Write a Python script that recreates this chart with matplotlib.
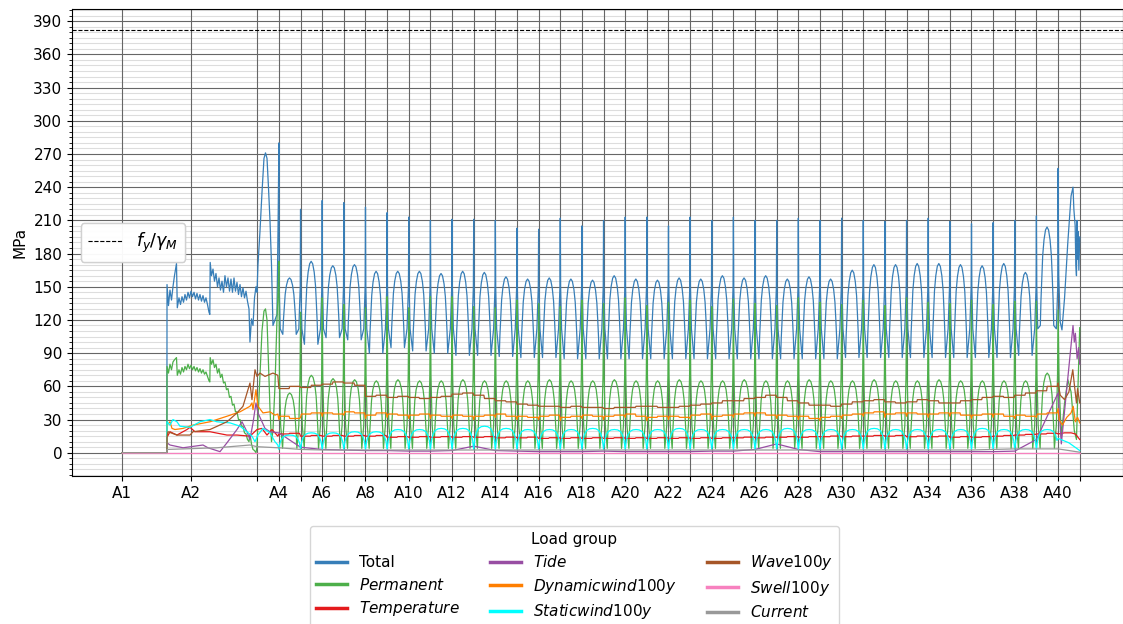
import matplotlib
matplotlib.use('Agg')
import matplotlib.pyplot as plt
from matplotlib.ticker import MultipleLocator

# supports along the bridge [m]
supports = ['A%d' % i for i in range(1, 42)]
support_x = [0.0, 127.5, 250.0] + [250.0 + 40.0 * i for i in range(1, 39)]
shown = ['A1', 'A2'] + ['A%d' % i for i in range(4, 41, 2)]

fy, gamma_M = 420.0, 1.1

# ---- lead-in A1 -> A4 (x [m], MPa) ----
total_lead_x = [0, 83.0, 83.2, 85.9, 88.7, 91.5, 94.2, 97.0, 100.7, 102.2, 105.3, 108.1, 110.9, 113.7,
                116.4, 119.2, 122.0, 124.7, 127.5, 130.3, 133.1, 135.8, 138.6, 141.4, 144.1, 146.9,
                149.7, 152.5, 155.2, 158.0, 160.8, 162.3, 163.0, 165.4, 168.2, 170.9, 173.7, 176.5,
                179.3, 182.0, 184.8, 187.6, 190.3, 193.1, 195.9, 198.7, 201.4, 204.2, 207.0, 209.7,
                212.5, 215.3, 218.1, 220.8, 223.6, 226.4, 229.2, 231.9, 234.7, 236.5, 239.3, 242.1,
                244.9, 247.6, 249.5, 251.3, 255.0, 258.7, 262.4, 265.2, 268.0, 270.7, 273.5, 276.3,
                279.0, 282.7, 286.4, 288.8]
total_lead_y = [0, 0, 152, 133, 147, 138, 150, 160, 171, 131, 140, 134, 141, 136,
                143, 138, 145, 140, 146, 141, 145, 139, 144, 138, 143, 137,
                142, 136, 140, 134, 127, 125, 172, 160, 166, 155, 162, 150,
                158, 147, 155, 145, 160, 150, 158, 146, 157, 145, 158, 146,
                154, 143, 152, 141, 149, 140, 146, 137, 130, 100, 121, 115,
                140, 150, 145, 170, 200, 235, 266, 271, 266, 240, 210, 170,
                115, 120, 125, 220]

perm_lead_x = total_lead_x
perm_lead_y = [0, 0, 78, 72, 80, 75, 82, 84, 86, 70, 75, 71, 77, 73,
               78, 75, 80, 76, 79, 75, 78, 74, 77, 73, 76, 72,
               75, 71, 73, 69, 65, 64, 86, 80, 84, 77, 80, 72,
               76, 68, 71, 63, 64, 57, 58, 50, 51, 43, 44, 37,
               37, 30, 30, 24, 24, 18, 17, 12, 10, 17, 8, 3,
               2, 0, 5, 30, 70, 110, 128, 130, 120, 80, 40, 10,
               20, 60, 120, 150]

temp_lead_x = [0, 83.0, 83.2, 88.7, 101.6, 120.1, 125.7, 134.9, 162.6, 194.0, 212.5, 236.5, 249.5, 258.7, 268.0, 277.2, 288.0]
temp_lead_y = [0, 0, 14, 19, 16, 21, 23, 19, 19, 16, 16, 15, 21, 22, 16, 21, 15]

tide_lead_x = [0, 83.0, 83.2, 88.7, 112.8, 149.7, 158.9, 181.1, 194.0, 212.5, 221.8, 231.0, 236.5, 242.1, 247.6, 251.3, 264.3, 273.5, 288.0]
tide_lead_y = [0, 0, 9, 7, 4.5, 7, 4.5, 1, 9, 21, 28, 19, 12, 27, 45, 36, 22, 19, 18]

dyn_lead_x = [0, 83.0, 83.2, 88.7, 92.4, 97.9, 112.8, 131.2, 162.6, 194.0, 218.1, 236.5, 240.2, 242.1, 247.6, 251.3, 260.6, 273.5, 282.7, 288.0]
dyn_lead_y = [0, 0, 25, 28, 22, 21, 22, 25, 28, 33, 37, 42, 45, 39, 57, 42, 36, 37, 34, 35]

static_lead_x = [0, 83.0, 83.2, 88.7, 94.2, 101.6, 107.2, 125.7, 144.1, 162.6, 175.5, 199.6, 218.1, 231.0, 240.2, 245.8, 251.3, 260.6, 273.5, 282.7, 288.0]
static_lead_y = [0, 0, 28, 25, 30, 28, 24, 23, 28, 30, 28, 27, 24, 19, 15, 10, 16, 22, 18, 10, 7]

wave_lead_x = [0, 83.0, 83.2, 85.0, 101.6, 125.7, 131.2, 162.6, 194.0, 212.5, 223.6, 231.0, 236.5, 240.2, 245.8, 249.5, 255.0, 264.3, 279.0, 288.0]
wave_lead_y = [0, 0, 13.5, 19, 16, 16, 19, 21, 28, 36, 42, 54, 63, 48, 75, 69, 72, 69, 72, 70]

current_lead_x = [0, 83.0, 83.2, 175.5, 236.5, 249.5, 288.0]
current_lead_y = [0, 0, 3, 4.5, 7, 5.5, 4.5]

# ---- regular spans A4-A5 ... A39-A40 (one value per span) ----
total_spike = [280, 220, 228, 226, 222, 217, 213, 210, 211, 211, 210, 203, 202, 212, 205, 210, 213, 213,
               205, 213, 210, 213, 210, 210, 212, 210, 212, 210, 209, 210, 212, 209, 207, 208, 210, 214]
total_hump = [158, 173, 169, 170, 164, 164, 164, 162, 164, 163, 159, 157, 158, 157, 156, 160, 157, 156,
              158, 157, 160, 158, 160, 157, 159, 157, 165, 170, 170, 171, 171, 170, 169, 171, 163, 204]
total_min = [107, 98, 104, 102, 90, 95, 92, 90, 88, 88, 87, 86, 86, 85, 85, 85, 85, 85,
             85, 85, 85, 85, 85, 85, 85, 85, 86, 86, 86, 86, 86, 86, 86, 86, 88, 115]
perm_spike = [173, 127, 140, 134, 131, 141, 131, 141, 141, 132, 131, 138, 135, 132, 138, 135, 140, 133,
              136, 138, 132, 139, 135, 133, 140, 136, 134, 138, 133, 140, 136, 135, 138, 134, 137, 137]
perm_hump = [54, 70, 67, 66, 65, 66, 65, 65, 66, 65, 65, 65, 66, 65, 65, 66, 65, 65,
             66, 65, 65, 66, 65, 65, 66, 65, 65, 66, 65, 65, 66, 65, 65, 65, 65, 72]
static_hump = [16, 18, 18, 19, 19, 21, 21, 22, 22, 24, 22, 21, 21, 21, 22, 21, 21, 21,
               22, 21, 21, 21, 21, 22, 21, 21, 21, 22, 21, 21, 21, 21, 22, 21, 21, 21]
temp_level = [17, 15, 15, 15, 15, 14, 14, 14, 14, 14, 13.5, 13.5, 13, 13, 13, 13, 13, 13,
              13, 13, 13, 13.5, 13.5, 14, 14, 14.5, 14.5, 15, 15, 14.5, 14.5, 14, 14, 15, 16, 17]
dyn_a = [33, 35, 36, 37, 34, 35, 34, 34, 34, 33, 35, 33, 33, 32, 34, 33, 35, 32,
         33, 34, 33, 35, 36, 34, 33, 32, 34, 36, 35, 36, 35, 36, 34, 35, 34, 35]
dyn_b = [31, 36, 35, 36, 36, 34, 35, 33, 33, 34, 33, 32, 34, 33, 33, 34, 33, 33,
         32, 35, 34, 36, 34, 33, 31, 33, 35, 37, 36, 35, 36, 34, 35, 33, 33, 36]
wave_a = [58, 59, 62, 63, 51, 50, 50, 50, 53, 52, 47, 44, 42, 41, 41, 40, 41, 42,
          41, 43, 45, 47, 50, 50, 45, 43, 44, 47, 46, 46, 47, 45, 48, 51, 52, 56]
wave_b = [60, 61, 64, 61, 52, 51, 49, 51, 54, 49, 46, 43, 42, 42, 41, 41, 42, 41,
          42, 44, 47, 49, 52, 47, 43, 42, 46, 48, 45, 48, 45, 47, 50, 50, 54, 60]
# values at supports A4 ... A40
tide_sup = [18, 5, 3, 2.5, 2, 2, 1.5, 1.5, 2, 6, 2, 1.5, 1, 1, 1, 1.5, 1, 1, 1,
            1, 1.5, 1.5, 3, 8, 3, 1, 1, 1, 1, 1, 1, 1, 1, 1, 1.5, 12, 54]
current_sup = [4.5, 3, 2.5, 2.5, 2.5, 2.5, 2.5, 2.5, 2.5, 2.5, 2.5, 2.5, 2.5, 2.5, 2.5, 2.5, 2.5, 2.5, 2.5,
               2.5, 2.5, 2.5, 2.5, 2.5, 2.5, 2.5, 2.5, 2.5, 2.5, 2.5, 2.5, 2.5, 2.5, 3, 3.5, 3.5, 3.5]

# shape of one span (fraction of span, weight), read off a typical span
arch_w = [0, 0.26, 0.5, 0.71, 0.87, 0.97, 1, 0.97, 0.87, 0.71, 0.5, 0.26, 0]
total_arch_f = [0.18, 0.21, 0.25, 0.29, 0.35, 0.42, 0.49, 0.56, 0.63, 0.69, 0.73, 0.77, 0.8]
perm_arch_f = [0.17, 0.2, 0.24, 0.28, 0.34, 0.42, 0.5, 0.58, 0.66, 0.72, 0.76, 0.8, 0.83]
static_f = [0, 0.05, 0.12, 0.22, 0.35, 0.5, 0.65, 0.78, 0.88, 0.95]
static_w = [0, 0.45, 0.72, 0.9, 0.98, 1, 0.98, 0.9, 0.72, 0.45]

# ---- last span A40 - A41 ----
end_f = {
    'total': [0, 0.03, 0.1, 0.18, 0.3, 0.45, 0.6, 0.69, 0.73, 0.76, 0.79, 0.82, 0.85, 0.88, 0.9, 0.93, 0.96, 1.0],
    'perm': [0, 0.05, 0.15, 0.3, 0.45, 0.6, 0.75, 0.85, 0.95, 1.0],
    'temp': [0, 0.3, 0.6, 0.8, 1.0],
    'tide': [0.15, 0.69, 0.75, 0.8, 0.88, 0.95, 1.0],
    'dyn': [0, 0.05, 0.2, 0.4, 0.6, 0.7, 0.8, 0.9, 1.0],
    'static': [0, 0.5, 1.0],
    'wave': [0, 0.1, 0.3, 0.5, 0.68, 0.75, 0.85, 0.9, 1.0],
    'current': [1.0],
}
end_y = {
    'total': [257, 160, 118, 111, 140, 190, 232, 240, 220, 213, 205, 170, 160, 210, 175, 200, 165, 195],
    'perm': [129, 60, 15, 45, 66, 55, 20, 12, 80, 113],
    'temp': [17, 18, 18, 17, 12],
    'tide': [8, 115, 100, 108, 85, 95, 80],
    'dyn': [40, 30, 25, 32, 36, 42, 28, 32, 27],
    'static': [13, 9, 2],
    'wave': [63, 52, 48, 55, 75, 62, 45, 58, 45],
    'current': [0.5],
}

span0 = support_x[3:39]
L = 40.0
x_end0 = support_x[39]


def join(lead_x, lead_y, xs, ys, key):
    x = list(lead_x) + xs + [x_end0 + f * L for f in end_f[key]]
    y = list(lead_y) + ys + end_y[key]
    return x, y


series = {}

xs, ys = [], []
for x0, s, p, m in zip(span0, total_spike, total_hump, total_min):
    f = [0, 0.015, 0.06] + total_arch_f + [0.92, 0.985]
    v = [s, 150, 112] + [m + (p - m) * w for w in arch_w] + [112, 150]
    xs += [x0 + fi * L for fi in f]
    ys += v
series['total'] = join(total_lead_x, total_lead_y, xs, ys, 'total')

xs, ys = [], []
for x0, s, h in zip(span0, perm_spike, perm_hump):
    f = [0, 0.025, 0.08] + perm_arch_f + [0.92, 0.975]
    v = [s, 70, 25] + [4 + (h - 4) * w for w in arch_w] + [25, 70]
    xs += [x0 + fi * L for fi in f]
    ys += v
series['perm'] = join(perm_lead_x, perm_lead_y, xs, ys, 'perm')

xs, ys = [], []
for x0, r in zip(span0, temp_level):
    xs += [x0, x0 + 0.45 * L, x0 + 0.5 * L, x0 + 0.95 * L]
    ys += [r, r, r + 0.6, r + 0.6]
series['temp'] = join(temp_lead_x, temp_lead_y, xs, ys, 'temp')

series['tide'] = join(tide_lead_x, tide_lead_y, list(support_x[3:40]), list(tide_sup), 'tide')

xs, ys = [], []
for x0, a, b in zip(span0, dyn_a, dyn_b):
    xs += [x0, x0 + 0.04 * L, x0 + 0.47 * L, x0 + 0.5 * L, x0 + 0.96 * L]
    ys += [a - 3, a, a, b, b]
series['dyn'] = join(dyn_lead_x, dyn_lead_y, xs, ys, 'dyn')

xs, ys = [], []
for x0, h in zip(span0, static_hump):
    xs += [x0 + fi * L for fi in static_f]
    ys += [3 + (h - 3) * w for w in static_w]
series['static'] = join(static_lead_x, static_lead_y, xs, ys, 'static')

xs, ys = [], []
for x0, a, b in zip(span0, wave_a, wave_b):
    xs += [x0, x0 + 0.47 * L, x0 + 0.5 * L, x0 + 0.97 * L]
    ys += [a, a, b, b]
series['wave'] = join(wave_lead_x, wave_lead_y, xs, ys, 'wave')

series['swell'] = ([0, support_x[-1]], [0, 0])
series['current'] = join(current_lead_x, current_lead_y, list(support_x[3:40]), list(current_sup), 'current')

labels = ['Total', r'$Permanent$', r'$Temperature$', r'$Tide$', r'$Dynamic wind 100y$',
          r'$Static wind 100y$', r'$Wave 100y$', r'$Swell 100y$', r'$Current$']
keys = ['total', 'perm', 'temp', 'tide', 'dyn', 'static', 'wave', 'swell', 'current']
colors = ['#377eb8', '#4daf4a', '#e41a1c', '#984ea3', '#ff7f00', '#00ffff', '#a65628', '#f781bf', '#999999']

plt.rcParams['font.size'] = 11
fig = plt.figure(figsize=(11.23, 6.24), dpi=100)
ax = fig.add_axes([72 / 1123, 1 - 476 / 624, 1 - 72 / 1123, 467 / 624])

lines = []
for k, lab, c in zip(keys, labels, colors):
    x, y = series[k]
    ln, = ax.plot(x, y, color=c, lw=0.9, label=lab)
    lines.append(ln)

ref = ax.axhline(fy / gamma_M, color='black', ls='--', lw=0.8, label=r'$f_y/\gamma_M$')

ax.set_xticks(support_x)
ax.set_xticklabels([s if s in shown else '' for s in supports])
ax.yaxis.set_major_locator(MultipleLocator(30))
ax.yaxis.set_minor_locator(MultipleLocator(5))
ax.set_ylim(-21, 401)
ax.set_xlim(-92.4, 1850)
ax.set_axisbelow(True)
ax.grid(which='major', axis='y', color='#666666', lw=0.8)
ax.grid(which='minor', axis='y', color='#dddddd', lw=0.8)
ax.yaxis.set_zorder(0.4)
for xv in support_x:
    ax.axvline(xv, color='#666666', lw=0.8, zorder=0.6)
ax.set_ylabel('MPa')

leg1 = ax.legend(handles=[ref], loc='center left', fontsize=12.5)
ax.add_artist(leg1)

leg = fig.legend(handles=lines, loc='upper center', bbox_to_anchor=(0.5116, 1 - 518 / 624),
                 ncol=3, title='Load group', fontsize=11, title_fontsize=11, labelspacing=0.42)
for l in leg.get_lines():
    l.set_linewidth(2.5)

fig.savefig('out.png', dpi=100)
